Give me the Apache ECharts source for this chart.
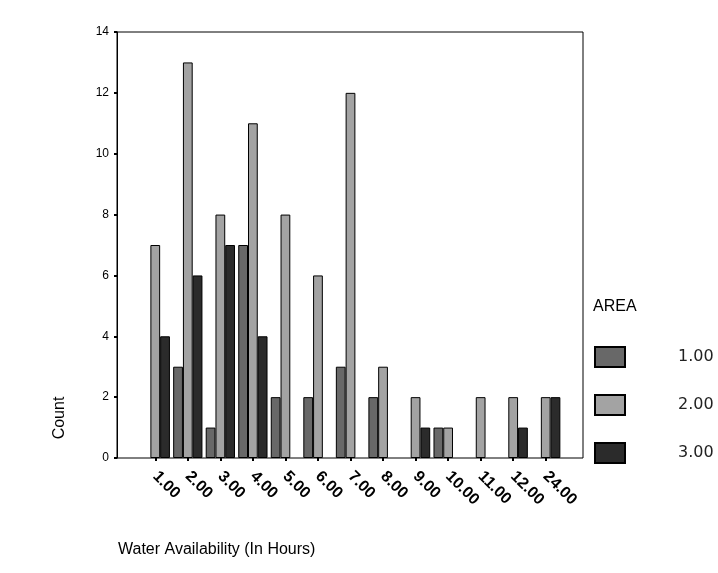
<!DOCTYPE html>
<html><head><meta charset="utf-8">
<script src="https://cdn.jsdelivr.net/npm/echarts@6/dist/echarts.min.js"></script>
<style>html,body{margin:0;padding:0;background:#fff}#c{width:718px;height:573px}</style>
</head><body><div id="c"></div>
<script>
var categories = ['1.00','2.00','3.00','4.00','5.00','6.00','7.00','8.00','9.00','10.00','11.00','12.00','24.00'];
var area1 = [null,3,1,7,2,2,3,2,null,1,null,null,null];
var area2 = [7,13,8,11,8,6,12,3,2,1,2,2,2];
var area3 = [4,6,7,4,null,null,null,null,1,null,null,1,2];
var seriesNames = ['1.00','2.00','3.00'];
var yTicks = {min:0, max:14, interval:2};

var font = 'Liberation Sans, Arial, sans-serif';
var wideFont = 'DejaVu Sans, sans-serif';
var chart = echarts.init(document.getElementById('c'));
function bar(name, data, color){
  return {name:name, type:'bar', data:data, barGap:'0%', barCategoryGap:'10%',
    itemStyle:{color:color, borderColor:'#000', borderWidth:1}};
}
chart.setOption({
  animation:false,
  backgroundColor:'#fff',
  grid:{left:139, right:156, top:32, bottom:115, containLabel:false},
  xAxis:{type:'category', data:categories,
    axisLine:{show:false},
    axisTick:{show:true, alignWithLabel:true, length:3, lineStyle:{color:'#000', width:2}},
    axisLabel:{rotate:-45, margin:16, fontSize:16, fontWeight:'bold', color:'#000', fontFamily:font, interval:0},
    splitLine:{show:false}},
  yAxis:{type:'value', min:yTicks.min, max:yTicks.max, interval:yTicks.interval, offset:22,
    axisLine:{show:true, lineStyle:{color:'#000', width:1}},
    axisTick:{show:true, length:3, lineStyle:{color:'#000', width:2}},
    axisLabel:{fontSize:12, color:'#000', fontFamily:font, margin:8},
    splitLine:{show:false}},
  legend:{orient:'vertical', left:594, top:346, padding:0, itemWidth:30, itemHeight:20, itemGap:26,
    icon:'rect', data:seriesNames,
    textStyle:{fontSize:16, color:'#222', fontFamily:wideFont, padding:[4,0,0,48]}},
  graphic:[
    {type:'rect', shape:{x:117, y:32, width:466, height:426}, style:{fill:'none', stroke:'#000', lineWidth:1}, silent:true, z:10},
    {type:'text', left:118, top:542, style:{text:'Water Availability (In Hours)', fontSize:16, fill:'#000', fontFamily:font}},
    {type:'text', x:60, y:418, rotation:Math.PI/2, style:{text:'Count', fontSize:16, fill:'#000', fontFamily:font, align:'center', verticalAlign:'middle'}},
    {type:'text', left:593, top:299, style:{text:'AREA', fontSize:16, fill:'#000', fontFamily:font}}
  ],
  series:[bar(seriesNames[0], area1, '#686868'), bar(seriesNames[1], area2, '#a3a3a3'), bar(seriesNames[2], area3, '#2b2b2b')]
});
</script></body></html>
